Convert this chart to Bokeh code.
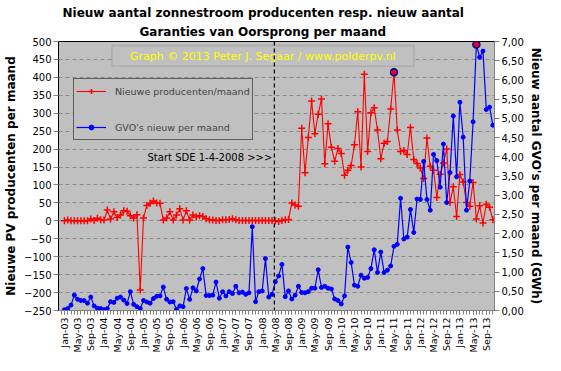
import math
from bokeh.plotting import figure
from bokeh.models import (Range1d, LinearAxis, FixedTicker, Legend, LegendItem, Span,
                          Label, BoxAnnotation, Title, CustomJSTickFormatter)
from bokeh.embed import file_html
from bokeh.resources import INLINE

# ---------------- data ----------------
# months from Jan-03 (index 0) to Nov-13 (index 130)
producenten = [
    0, 2, 0, 0, 0, 0, 0, 0, 5, 1,
    7, 3, 2, 30, 5, 25, 9, 16, 28, 27,
    14, 8, 17, -193, 8, 43, 49, 55, 50, 49,
    2, 8, 25, 2, 16, 34, 2, 28, 2, 16,
    11, 14, 12, 6, 3, 2, 1, 1, 3, 3,
    4, 6, 3, 1, 1, 1, 1, 1, 1, 1,
    1, 1, 1, 1, 0, -2, 1, 3, 4, 50,
    44, 41, 258, 134, 232, 334, 243, 297, 340, 159,
    271, 205, 166, 202, 188, 127, 141, 154, 212, 304,
    150, 409, 193, 301, 315, 253, 173, 216, 221, 312,
    414, 253, 193, 196, 185, 260, 171, 160, 147, 118,
    231, 152, 141, 65, 130, 161, 200, 51, 95, 12,
    129, 108, 51, 41, 107, 5, 42, -6, 46, 38,
    3,
]
gvo_gwh = [
    0.02, 0.05, 0.14, 0.40, 0.29, 0.26, 0.26, 0.19, 0.35, 0.12,
    0.06, 0.05, 0.02, 0.05, 0.23, 0.21, 0.32, 0.35, 0.27, 0.18,
    0.49, 0.16, 0.10, 0.05, 0.26, 0.22, 0.19, 0.31, 0.37, 0.38,
    0.61, 0.29, 0.22, 0.23, 0.03, 0.12, 0.10, 0.57, 0.29, 0.59,
    0.51, 0.82, 1.09, 0.39, 0.39, 0.40, 0.74, 0.32, 0.49, 0.38,
    0.49, 0.44, 0.63, 0.46, 0.48, 0.42, 0.46, 2.18, 0.23, 0.49,
    0.51, 1.35, 0.35, 0.42, 0.75, 0.90, 1.20, 0.36, 0.51, 0.30,
    0.40, 0.63, 0.47, 0.46, 0.49, 0.58, 0.58, 1.06, 0.60, 0.63,
    0.58, 0.56, 0.30, 0.26, 0.17, 0.38, 1.65, 1.25, 0.66, 0.63,
    0.92, 0.84, 0.86, 1.09, 1.58, 0.99, 1.52, 0.99, 1.05, 1.16,
    1.67, 1.72, 2.92, 1.86, 1.91, 2.63, 2.03, 2.90, 2.89, 3.88,
    2.89, 2.61, 4.06, 3.90, 3.21, 4.33, 2.81, 3.59, 5.06, 3.48,
    5.42, 4.51, 2.61, 3.37, 4.91, 6.92, 6.59, 6.75, 5.23, 5.29,
    4.82,
]
month_index = list(range(len(producenten)))
tick_labels = [
    "Jan-03", "May-03", "Sep-03", "Jan-04", "May-04", "Sep-04", "Jan-05", "May-05", "Sep-05",
    "Jan-06", "May-06", "Sep-06", "Jan-07", "May-07", "Sep-07", "Jan-08", "May-08", "Sep-08",
    "Jan-09", "May-09", "Sep-09", "Jan-10", "May-10", "Sep-10", "Jan-11", "May-11", "Sep-11",
    "Jan-12", "May-12", "Sep-12", "Jan-13", "May-13", "Sep-13",
]
tick_positions = list(range(0, 4 * len(tick_labels), 4))
sde_start = 63.7  # 1-4-2008

FONT = "DejaVu Sans"

p = figure(width=545, height=355, output_backend="svg", toolbar_location=None,
           x_range=Range1d(-1.8, 130.5), y_range=Range1d(-250, 500),
           min_border_left=58, min_border_right=45, min_border_top=41, min_border_bottom=42,
           background_fill_color="#C0C0C0", border_fill_color="white")
p.outline_line_color = "black"
p.outline_line_width = 1

p.extra_y_ranges = {"gvo": Range1d(0, 7)}

# titles
t2 = Title(text="Garanties van Oorsprong per maand", align="left", offset=81,
           text_font=FONT, text_font_size="12px", text_font_style="bold", standoff=5,
           text_color="black")
t1 = Title(text="Nieuw aantal zonnestroom producenten resp. nieuw aantal", align="left", offset=4,
           text_font=FONT, text_font_size="12px", text_font_style="bold", standoff=1,
           text_color="black")
p.add_layout(t2, "above")
p.add_layout(t1, "above")

# grid
p.xgrid.visible = False
p.ygrid.ticker = FixedTicker(ticks=list(range(-250, 501, 50)))
p.ygrid.grid_line_color = "#8a8a8a"
p.ygrid.grid_line_dash = "4 3"

# x axis
xa = p.xaxis[0]
xa.ticker = FixedTicker(ticks=tick_positions, minor_ticks=list(range(-1, 131)))
xa.major_label_overrides = {pos: lab for pos, lab in zip(tick_positions, tick_labels)}
xa.major_label_orientation = math.pi / 2
xa.major_label_text_font = FONT
xa.major_label_text_font_size = "9.5px"
xa.major_label_text_color = "black"
xa.major_label_standoff = 3
xa.major_tick_out = 4
xa.major_tick_in = 0
xa.minor_tick_out = 4
xa.minor_tick_in = 0
xa.axis_line_color = "#808080"
xa.major_tick_line_color = "#808080"
xa.minor_tick_line_color = "#808080"

# left axis
ya = p.yaxis[0]
ya.ticker = FixedTicker(ticks=list(range(-250, 501, 50)))
ya.axis_label = "Nieuwe PV producenten per maand"
ya.axis_label_text_font = FONT
ya.axis_label_text_font_size = "12px"
ya.axis_label_text_font_style = "bold"
ya.axis_label_text_color = "black"
ya.axis_label_standoff = 3
ya.major_label_text_font = FONT
ya.major_label_text_font_size = "10px"
ya.major_label_text_color = "black"
ya.major_label_standoff = 2
ya.major_tick_out = 5
ya.major_tick_in = 0
ya.minor_tick_line_color = None
ya.axis_line_color = "black"
ya.major_tick_line_color = "#808080"

# right axis
ra = LinearAxis(y_range_name="gvo",
                ticker=FixedTicker(ticks=[k * 0.5 for k in range(15)]),
                formatter=CustomJSTickFormatter(code="return tick.toFixed(2).replace('.', ',');"))
ra.axis_label = "Nieuw aantal GVO's per maand (GWh)"
ra.axis_label_text_font = FONT
ra.axis_label_text_font_size = "12px"
ra.axis_label_text_font_style = "bold"
ra.axis_label_text_color = "black"
ra.axis_label_standoff = 2
ra.major_label_text_font = FONT
ra.major_label_text_font_size = "10px"
ra.major_label_text_color = "black"
ra.major_label_standoff = 2
ra.major_tick_out = 5
ra.major_tick_in = 0
ra.minor_tick_line_color = None
ra.axis_line_color = "#808080"
ra.major_tick_line_color = "#808080"
p.add_layout(ra, "right")

# copyright box
box = BoxAnnotation(left=14.4, right=106.0, bottom=431, top=489,
                    fill_color="#C0C0C0", fill_alpha=1, line_color="#808080", line_width=1.5)
p.add_layout(box)
p.add_layout(Label(x=60.2, y=459, text="Graph \u00a9 2013 Peter J. Segaar / www.polderpv.nl",
                   text_color="#FFFF00", text_align="center", text_baseline="middle",
                   text_font=FONT, text_font_size="11px"))

# SDE start
p.add_layout(Span(location=sde_start, dimension="height", line_color="black",
                  line_dash="4 3", line_width=1.2))
p.add_layout(Label(x=sde_start - 0.6, y=177, text="Start SDE 1-4-2008 >>>",
                   text_align="right", text_baseline="middle", text_color="black",
                   text_font=FONT, text_font_size="10px"))

# series
red_line = p.line(month_index, producenten, line_color="#FF0000", line_width=1.1)
red_pts = p.scatter(month_index, producenten, marker="cross", size=7,
                    line_color="#FF0000", line_width=1.5)
blue_line = p.line(month_index, gvo_gwh, line_color="#0000FF", line_width=1.2, y_range_name="gvo")
blue_pts = p.scatter(month_index, gvo_gwh, marker="circle", size=4, fill_color="#0000FF",
                     line_color="#0000FF", y_range_name="gvo")

# maxima markers
r_max = max(range(len(producenten)), key=lambda k: producenten[k])
g_max = max(range(len(gvo_gwh)), key=lambda k: gvo_gwh[k])
p.scatter([month_index[r_max]], [producenten[r_max]], marker="circle", size=7,
          fill_color="#E00030", line_color="#000080", line_width=1.5)
p.scatter([month_index[g_max]], [gvo_gwh[g_max]], marker="circle", size=7,
          fill_color="#E00030", line_color="#000080", line_width=1.5, y_range_name="gvo")

legend = Legend(items=[
    LegendItem(label="Nieuwe producenten/maand", renderers=[red_line, red_pts]),
    LegendItem(label="GVO's nieuw per maand", renderers=[blue_line, blue_pts]),
], location=(15, 170))
legend.background_fill_color = "#C0C0C0"
legend.background_fill_alpha = 1
legend.border_line_color = "black"
legend.border_line_width = 1
legend.label_text_font = FONT
legend.label_text_font_size = "9.5px"
legend.glyph_width = 30
legend.glyph_height = 12
legend.label_height = 20
legend.spacing = 16
legend.padding = 2
legend.margin = 0
legend.label_standoff = 9
p.add_layout(legend)

open("out.html", "w").write(file_html(p, INLINE))
